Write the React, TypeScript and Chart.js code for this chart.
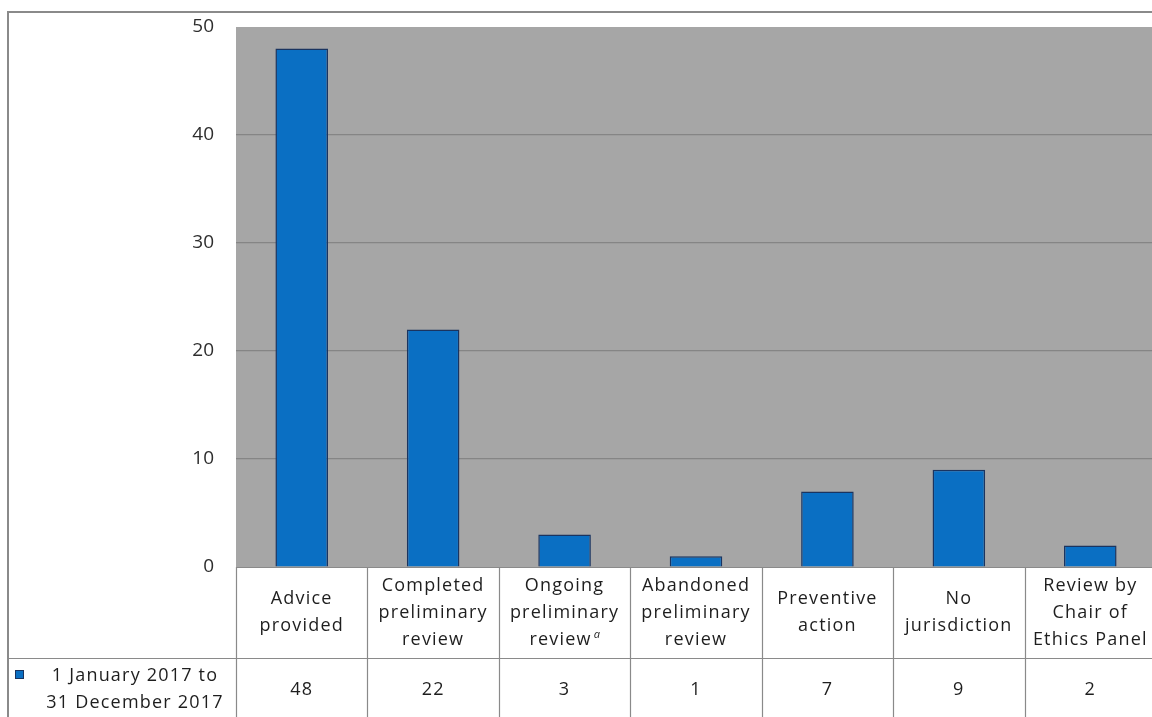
import React, { useEffect, useRef } from "react";
import { Chart, registerables } from "chart.js";

Chart.register(...registerables);

const categories: string[][] = [
  ["Advice", "provided"],
  ["Completed", "preliminary", "review"],
  ["Ongoing", "preliminary", "review"],
  ["Abandoned", "preliminary", "review"],
  ["Preventive", "action"],
  ["No", "jurisdiction"],
  ["Review by", "Chair of", "Ethics Panel"],
];
const footnotes: string[] = ["", "", "a", "", "", "", ""];
const seriesLabel: string[] = ["1 January 2017 to", "31 December 2017"];
const values: number[] = [48, 22, 3, 1, 7, 9, 2];
const yTicks: number[] = [0, 10, 20, 30, 40, 50];

const W = 1156;
const H = 717;
const FONT = '"Open Sans", "DejaVu Sans", sans-serif';
const LINE = "#8a8a8a";
const TEXT = "#1e1e1e";
const BAR = "#0a6fc3";
const BAR_BORDER = "#1a3460";

const tablePlugin = {
  id: "tablePlugin",
  beforeDraw(chart: any) {
    const { ctx, chartArea } = chart;
    ctx.save();
    ctx.fillStyle = "#ffffff";
    ctx.fillRect(0, 0, chart.width, chart.height);
    ctx.fillStyle = "#a6a6a6";
    ctx.fillRect(chartArea.left, chartArea.top, chartArea.right - chartArea.left, chartArea.bottom - chartArea.top);
    ctx.restore();
  },
  afterDraw(chart: any) {
    const { ctx, chartArea, scales } = chart;
    const x = scales.x;
    const left = chartArea.left;
    const right = chartArea.right;
    const top = chartArea.bottom;
    const rowSplit = top + 91;
    const bottom = chart.height;
    const n = categories.length;
    const step = (right - left) / n;

    ctx.save();
    // outer frame
    ctx.strokeStyle = LINE;
    ctx.lineWidth = 2;
    ctx.beginPath();
    ctx.moveTo(8, bottom);
    ctx.lineTo(8, 12);
    ctx.lineTo(chart.width, 12);
    ctx.stroke();

    ctx.lineWidth = 1.2;
    ctx.beginPath();
    ctx.moveTo(left, top + 0.5);
    ctx.lineTo(right, top + 0.5);
    ctx.moveTo(8, rowSplit + 0.5);
    ctx.lineTo(right, rowSplit + 0.5);
    for (let i = 0; i <= n; i++) {
      const cx = Math.round(x.getPixelForValue(i) - step / 2) + 0.5;
      ctx.moveTo(cx, top);
      ctx.lineTo(cx, bottom);
    }
    ctx.stroke();

    // category labels
    ctx.fillStyle = TEXT;
    ctx.textAlign = "center";
    ctx.textBaseline = "middle";
    ctx.font = `18px ${FONT}`;
    (ctx as any).letterSpacing = "1.2px";
    const lh = 27;
    const midCat = (top + rowSplit) / 2;
    categories.forEach((lines, i) => {
      const cx = x.getPixelForValue(i);
      const y0 = midCat - ((lines.length - 1) * lh) / 2;
      lines.forEach((ln, j) => {
        const ly = y0 + j * lh;
        if (j === lines.length - 1 && footnotes[i]) {
          const w = ctx.measureText(ln).width;
          ctx.fillText(ln, cx - 4, ly);
          ctx.save();
          ctx.font = `italic 11px ${FONT}`;
          ctx.textAlign = "left";
          ctx.fillText(footnotes[i], cx - 4 + w / 2 + 2, ly - 5);
          ctx.restore();
        } else {
          ctx.fillText(ln, cx, ly);
        }
      });
    });

    // values row
    const midVal = rowSplit + 32;
    values.forEach((v, i) => {
      ctx.fillText(String(v), x.getPixelForValue(i), midVal);
    });

    // legend cell
    ctx.fillStyle = BAR;
    ctx.strokeStyle = BAR_BORDER;
    ctx.lineWidth = 1;
    ctx.fillRect(15, 670, 8, 8);
    ctx.strokeRect(15.5, 670.5, 8, 8);
    ctx.fillStyle = TEXT;
    ctx.textAlign = "center";
    seriesLabel.forEach((ln, j) => {
      ctx.fillText(ln, 135, 676 + j * 27);
    });
    ctx.restore();
  },
};

export default function App() {
  const ref = useRef<HTMLCanvasElement | null>(null);
  useEffect(() => {
    if (!ref.current) return;
    const chart = new Chart(ref.current, {
      type: "bar",
      data: {
        labels: categories.map((c) => c.join(" ")),
        datasets: [
          {
            label: seriesLabel.join(" "),
            data: values,
            backgroundColor: BAR,
            borderColor: BAR_BORDER,
            borderWidth: 1.5,
            barPercentage: 0.4,
            categoryPercentage: 1,
          },
        ],
      },
      options: {
        responsive: false,
        animation: false,
        devicePixelRatio: 1,
        layout: { padding: { top: 27, left: 0, right: 0, bottom: 0 } },
        plugins: { legend: { display: false }, tooltip: { enabled: false } },
        scales: {
          x: {
            ticks: { display: false },
            grid: { display: false },
            border: { display: false },
            afterFit: (s: any) => {
              s.height = 150;
              s.paddingLeft = 0;
              s.paddingRight = 0;
            },
          },
          y: {
            min: yTicks[0],
            max: yTicks[yTicks.length - 1],
            afterBuildTicks: (s: any) => {
              s.ticks = yTicks.map((v) => ({ value: v }));
            },
            ticks: {
              color: "#2e2e2e",
              font: { family: FONT, size: 19 },
              padding: 22,
            },
            grid: {
              drawTicks: false,
              color: (c: any) => (c.tick && (c.tick.value === 0 || c.tick.value === 50) ? "rgba(0,0,0,0)" : "#858585"),
              lineWidth: 1.2,
            },
            border: { display: false },
            afterFit: (s: any) => {
              s.width = 236;
              s.paddingTop = 0;
              s.paddingBottom = 0;
            },
          },
        },
      },
      plugins: [tablePlugin],
    });
    return () => chart.destroy();
  }, []);
  return (
    <div style={{ position: "fixed", left: 0, top: 0, width: 1152, height: 717, overflow: "hidden", background: "#fff" }}>
      <canvas ref={ref} width={W} height={H} style={{ display: "block", width: W, height: H }} />
    </div>
  );
}
